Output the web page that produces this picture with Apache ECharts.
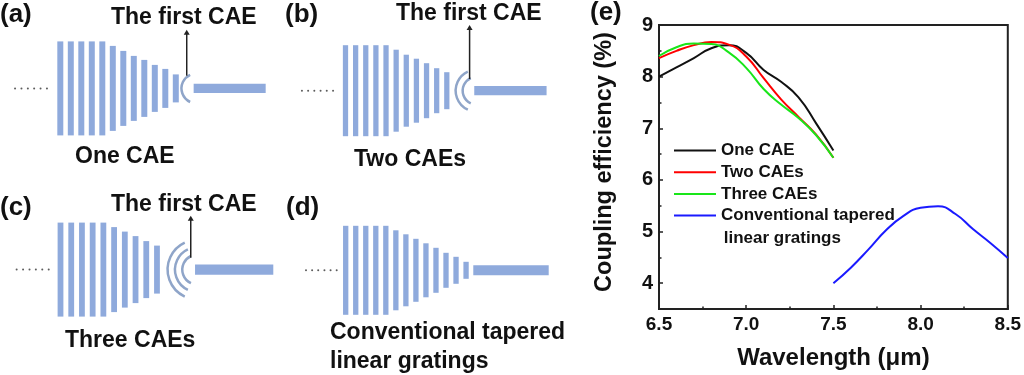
<!DOCTYPE html>
<html>
<head>
<meta charset="utf-8">
<style>
html, body { margin: 0; padding: 0; background: #fff; }
#chart { width: 1024px; height: 375px; }
</style>
<script src="https://cdn.jsdelivr.net/npm/echarts@6/dist/echarts.min.js"></script>
</head>
<body>
<div id="chart"></div>
<script>
// 耦合效率曲线 (e)
const caeX = [6.5, 6.6, 6.7, 6.8, 6.9, 7.0, 7.1, 7.2, 7.3, 7.4, 7.5];
const oneCaeY = [8.0, 8.18, 8.36, 8.55, 8.61, 8.46, 8.13, 7.9, 7.6, 7.1, 6.57];
const twoCaesY = [8.36, 8.5, 8.61, 8.67, 8.62, 8.39, 7.97, 7.56, 7.22, 6.88, 6.43];
const threeCaesY = [8.4, 8.57, 8.64, 8.63, 8.47, 8.17, 7.76, 7.46, 7.2, 6.87, 6.43];
const taperedX = [7.5, 7.6, 7.7, 7.8, 7.9, 8.0, 8.1, 8.2, 8.3, 8.4, 8.5];
const taperedY = [4.0, 4.3, 4.65, 5.02, 5.3, 5.46, 5.49, 5.34, 5.05, 4.78, 4.49];
const yMajorTicks = [4, 5, 6, 7, 8, 9];
const yMinorTicks = [4.5, 5.5, 6.5, 7.5, 8.5];
const seriesNames = ['One CAE', 'Two CAEs', 'Three CAEs', 'Conventional tapered'];

// 光栅长度 (a)-(d)，x 以周期为单位
const barsA = [94, 94, 94, 94, 94, 85, 75, 65, 57, 47, 39, 28];
const barsB = [91, 91, 91, 91, 91, 82, 72, 64, 55, 45, 37];
const barsC = [94, 94, 94, 94, 94, 85, 76, 67, 57, 48];
const barsD = [89, 89, 89, 89, 89, 80, 72, 63, 54, 45, 35, 27, 17];
const arcsA = [15];
const arcsB = [14, 21];
const arcsC = [15, 22.3, 29.7];
const arcsD = [];
const dotsA = [-4.31, -3.7, -3.09, -2.49, -1.88, -1.27];
const dotsB = [-4.3, -3.69, -3.08, -2.46, -1.85, -1.23];
const dotsC = [-4.09, -3.49, -2.89, -2.3, -1.7, -1.1];
const dotsD = [-3.96, -3.35, -2.74, -2.12, -1.51, -0.9];
const guideA = [12.7, 19.56];
const guideB = [12.71, 19.85];
const guideC = [12.55, 19.85];
const guideD = [12.72, 20.24];
const arrowA = [12.04, 12.7, 58.7];
const arrowB = [12.25, 11.7, 65.7];
const arrowC = [12.15, 11.9, 53.9];

const BLUE = '#8faadc';
const ARC = '#8fa5c9';
const INK = '#111';
const FONT = '"Liberation Sans", Arial, sans-serif';

const panels = [
    { x0: 60.3, yc: 88.4, pitch: 10.5, barW: 0.57, bars: barsA, arcs: arcsA, arcX: 12.97, dots: dotsA, guide: guideA, guideH: 9.4, arrow: arrowA },
    { x0: 345.5, yc: 90.7, pitch: 10.13, barW: 0.52, bars: barsB, arcs: arcsB, arcX: 12.95, dots: dotsB, guide: guideB, guideH: 9.3, arrow: arrowB },
    { x0: 60.5, yc: 269.6, pitch: 10.72, barW: 0.54, bars: barsC, arcs: arcsC, arcX: 12.76, dots: dotsC, guide: guideC, guideH: 10.4, arrow: arrowC },
    { x0: 345.7, yc: 270.3, pitch: 10.03, barW: 0.53, bars: barsD, arcs: arcsD, arcX: 0, dots: dotsD, guide: guideD, guideH: 10, arrow: null },
];

const X_MIN = -5;
const X_MAX = 21;
const HALF = 70;

const grids = [{ left: 659, top: 25, width: 352, height: 284, show: true, borderColor: '#222', borderWidth: 2, backgroundColor: 'transparent' }];
const xAxes = [{
    type: 'value', min: 6.5, max: 8.5, interval: 0.5, gridIndex: 0,
    name: 'Wavelength (μm)', nameLocation: 'middle', nameGap: 37,
    nameTextStyle: { color: INK, fontFamily: FONT, fontWeight: 'bold', fontSize: 24 },
    axisLine: { lineStyle: { color: '#222', width: 2 } },
    axisTick: { inside: true, length: 4, lineStyle: { color: '#222', width: 1.5 } },
    minorTick: { show: true, splitNumber: 2, length: 2.5, lineStyle: { color: '#222', width: 1.5 } },
    axisLabel: { color: INK, fontFamily: FONT, fontWeight: 'bold', fontSize: 19, margin: 6, formatter: (v) => v.toFixed(1) },
    splitLine: { show: false },
}];
const yAxes = [{
    type: 'value', min: 3.5, max: 9, interval: 0.5, gridIndex: 0,
    name: 'Coupling efficiency (%)', nameLocation: 'middle', nameGap: 42,
    nameTextStyle: { color: INK, fontFamily: FONT, fontWeight: 'bold', fontSize: 23.5, padding: [0, 0, 0, 10] },
    axisLine: { show: true, lineStyle: { color: '#222', width: 2 } },
    axisTick: { show: true, inside: true, length: 4, customValues: yMajorTicks, lineStyle: { color: '#222', width: 1.5 } },
    axisLabel: { color: INK, fontFamily: FONT, fontWeight: 'bold', fontSize: 20, margin: 6, customValues: yMajorTicks },
    splitLine: { show: false },
}, {
    type: 'value', min: 3.5, max: 9, interval: 0.5, gridIndex: 0, position: 'left',
    axisLine: { show: false },
    axisTick: { show: true, inside: true, length: 2.5, customValues: yMinorTicks, lineStyle: { color: '#222', width: 1.5 } },
    axisLabel: { show: false },
    splitLine: { show: false },
}];

const pairs = (xs, ys) => xs.map((x, i) => [x, ys[i]]);
const curve = (name, xs, ys, color) => ({
    name, type: 'line', xAxisIndex: 0, yAxisIndex: 0, data: pairs(xs, ys),
    smooth: 0.5, symbol: 'none', lineStyle: { color, width: 2 }, itemStyle: { color },
});

const series = [
    curve(seriesNames[0], caeX, oneCaeY, '#111111'),
    curve(seriesNames[1], caeX, twoCaesY, '#ff0000'),
    curve(seriesNames[2], caeX, threeCaesY, '#19e619'),
    curve(seriesNames[3], taperedX, taperedY, '#1a1aff'),
];

panels.forEach((p, i) => {
    const g = i + 1;
    grids.push({ left: p.x0 + X_MIN * p.pitch, top: p.yc - HALF, width: (X_MAX - X_MIN) * p.pitch, height: 2 * HALF });
    xAxes.push({ type: 'value', gridIndex: g, min: X_MIN, max: X_MAX, show: false });
    yAxes.push({ type: 'value', gridIndex: g, min: -HALF, max: HALF, show: false });
    const axisIdx = { xAxisIndex: g, yAxisIndex: g + 1 };

    // 光栅条
    series.push({
        type: 'custom', ...axisIdx, silent: true, clip: false,
        data: p.bars.map((len, k) => [k, len]),
        renderItem: (params, api) => {
            const c = api.coord([api.value(0), 0]);
            const w = api.size([p.barW, 0])[0];
            const h = api.size([0, api.value(1)])[1];
            return { type: 'rect', shape: { x: c[0] - w / 2, y: c[1] - h / 2, width: w, height: h }, style: { fill: BLUE } };
        },
    });
    // 波导
    series.push({
        type: 'custom', ...axisIdx, silent: true, clip: false,
        data: [[p.guide[0], p.guide[1], p.guideH]],
        renderItem: (params, api) => {
            const a = api.coord([api.value(0), 0]);
            const b = api.coord([api.value(1), 0]);
            const h = api.size([0, api.value(2)])[1];
            return { type: 'rect', shape: { x: a[0], y: a[1] - h / 2, width: b[0] - a[0], height: h }, style: { fill: BLUE } };
        },
    });
    // CAE 圆弧
    if (p.arcs.length) {
        series.push({
            type: 'custom', ...axisIdx, silent: true, clip: false,
            data: p.arcs.map((r) => [p.arcX, r]),
            renderItem: (params, api) => {
                const c = api.coord([api.value(0), 0]);
                const r = api.size([0, api.value(1)])[1];
                const spread = 65 * Math.PI / 180;
                return {
                    type: 'arc',
                    shape: { cx: c[0], cy: c[1], r, startAngle: Math.PI - spread, endAngle: Math.PI + spread, clockwise: true },
                    style: { fill: null, stroke: ARC, lineWidth: 2.5 },
                };
            },
        });
    }
    // 箭头
    if (p.arrow) {
        series.push({
            type: 'custom', ...axisIdx, silent: true, clip: false,
            data: [p.arrow],
            renderItem: (params, api) => {
                const a = api.coord([api.value(0), api.value(1)]);
                const b = api.coord([api.value(0), api.value(2)]);
                return {
                    type: 'group',
                    children: [
                        { type: 'line', shape: { x1: a[0], y1: a[1], x2: b[0], y2: b[1] + 3 }, style: { stroke: '#222', lineWidth: 1.5 } },
                        { type: 'polygon', shape: { points: [[b[0], b[1]], [b[0] - 3, b[1] + 5], [b[0] + 3, b[1] + 5]] }, style: { fill: '#222' } },
                    ],
                };
            },
        });
    }
    // 省略号
    series.push({
        type: 'scatter', ...axisIdx, silent: true, symbolSize: 2,
        data: p.dots.map((x) => [x, 0]),
        itemStyle: { color: '#333' },
    });
});

const labelText = (text, x, y, size, align) => ({
    type: 'text', x, y, silent: true,
    style: { text, fill: INK, font: `bold ${size}px ${FONT}`, textAlign: align || 'left', textVerticalAlign: 'middle' },
});

const graphic = [
    labelText('(a)', 0, 15, 26),
    labelText('(b)', 285, 15, 26),
    labelText('(c)', 0, 208, 26),
    labelText('(d)', 286, 208, 26),
    labelText('(e)', 590, 13, 26),
    labelText('The first CAE', 111, 18, 23),
    labelText('The first CAE', 396, 14, 23),
    labelText('The first CAE', 111, 205, 23),
    labelText('One CAE', 75, 157, 23),
    labelText('Two CAEs', 354, 160, 23),
    labelText('Three CAEs', 65, 341, 23),
    labelText('Conventional tapered', 330, 333, 23),
    labelText('linear gratings', 330, 362, 23),
    labelText(' linear gratings', 719, 238, 17),
];

const chart = echarts.init(document.getElementById('chart'), null, { renderer: 'canvas' });
chart.setOption({
    animation: false,
    backgroundColor: '#fff',
    grid: grids,
    xAxis: xAxes,
    yAxis: yAxes,
    legend: {
        data: seriesNames,
        orient: 'vertical',
        icon: 'rect',
        left: 669,
        top: 137,
        itemWidth: 42,
        itemHeight: 2,
        itemGap: 4.7,
        selectedMode: false,
        textStyle: { color: INK, fontFamily: FONT, fontWeight: 'bold', fontSize: 17 },
    },
    series,
    graphic,
});
</script>
</body>
</html>
